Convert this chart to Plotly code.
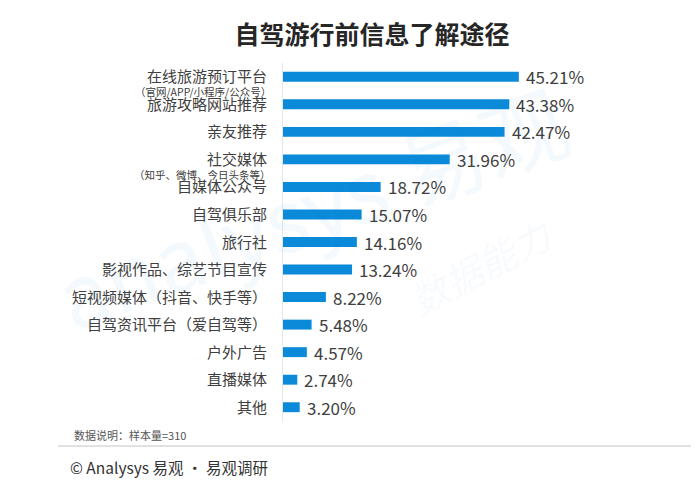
import plotly.graph_objects as go

categories = ["在线旅游预订平台", "旅游攻略网站推荐", "亲友推荐", "社交媒体", "自媒体公众号",
              "自驾俱乐部", "旅行社", "影视作品、综艺节目宣传", "短视频媒体（抖音、快手等）",
              "自驾资讯平台（爱自驾等）", "户外广告", "直播媒体", "其他"]
subtexts = ["（官网/APP/小程序/公众号）", "", "", "（知乎、微博、今日头条等）", "",
            "", "", "", "", "", "", "", ""]
values = [45.21, 43.38, 42.47, 31.96, 18.72, 15.07, 14.16, 13.24, 8.22, 5.48, 4.57, 2.74, 3.20]

font = "Noto Sans CJK SC"
bar_color = "#0A8AD8"

# the page body has an 8px margin, so the figure is drawn 8px in from the window corner
W, H = 691, 480
L, R, T, B = 275, 103, 55, 67


def px(xw, yw):
    # window pixel -> paper coords
    xf, yf = xw - 8, yw - 8
    return (xf - L) / (W - L - R), (H - B - yf) / (H - T - B)


fig = go.Figure()
fig.add_trace(go.Bar(
    x=values, y=categories, orientation="h", width=0.36,
    marker=dict(color=bar_color, line=dict(width=0)),
    hoverinfo="x+y",
))

annotations = []

# faint watermark (drawn first so it sits under the labels)
wx, wy = px(310, 205)
annotations.append(dict(x=wx, y=wy, xref="paper", yref="paper", text="analysys 易观",
                        showarrow=False, textangle=-20, xanchor="center", yanchor="middle",
                        font=dict(size=86, color="rgba(10,138,216,0.05)", family=font)))
wx, wy = px(480, 265)
annotations.append(dict(x=wx, y=wy, xref="paper", yref="paper", text="<i>数据能力</i>",
                        showarrow=False, textangle=-28, xanchor="center", yanchor="middle",
                        font=dict(size=38, color="rgba(10,138,216,0.05)", family=font)))

for cat, sub, v in zip(categories, subtexts, values):
    annotations.append(dict(x=0, y=cat, xref="x", yref="y", text=cat, showarrow=False,
                            xanchor="right", xshift=-14, yshift=1,
                            font=dict(size=15, color="#404040", family=font)))
    if sub:
        annotations.append(dict(x=0, y=cat, xref="x", yref="y", text=sub, showarrow=False,
                                xanchor="right", xshift=-10, yshift=-15,
                                font=dict(size=10.5, color="#404040", family=font)))
    annotations.append(dict(x=v, y=cat, xref="x", yref="y", text=f"{v:.2f}%", showarrow=False,
                            xanchor="left", xshift=5, yshift=0,
                            font=dict(size=17, color="#404040", family=font)))

fx, fy = px(72, 435)
annotations.append(dict(x=fx, y=fy, xref="paper", yref="paper", text="数据说明：样本量=310",
                        showarrow=False, xanchor="left", yanchor="middle",
                        font=dict(size=11, color="#555555", family=font)))
fx, fy = px(68, 467)
annotations.append(dict(x=fx, y=fy, xref="paper", yref="paper", text="© Analysys 易观 · 易观调研",
                        showarrow=False, xanchor="left", yanchor="middle",
                        font=dict(size=15.5, color="#333333", family=font)))

# separator above the source line (thin dashes vanish in the screenshot, so keep it solid and light)
xa, ya = px(58, 446)
xb, _ = px(699, 446)
fig.add_shape(type="line", xref="paper", yref="paper", x0=xa, x1=xb, y0=ya, y1=ya,
              line=dict(color="#C4C4C4", width=1))

fig.update_layout(
    width=W, height=H,
    margin=dict(l=L, r=R, t=T, b=B),
    paper_bgcolor="white", plot_bgcolor="white",
    showlegend=False,
    title=dict(text="<b>自驾游行前信息了解途径</b>", xref="paper", x=(372 - 8 - L) / (W - L - R),
               xanchor="center", yref="container", y=1 - (35 - 8) / H, yanchor="middle",
               font=dict(size=25, color="#262626", family=font)),
    xaxis=dict(range=[0, 60], visible=False),
    yaxis=dict(range=[12.5, -0.5], showticklabels=False, showgrid=False, zeroline=False,
               showline=True, linecolor="#E6E6E6", linewidth=1, ticks=""),
    annotations=annotations,
)

fig.write_html("out.html")
